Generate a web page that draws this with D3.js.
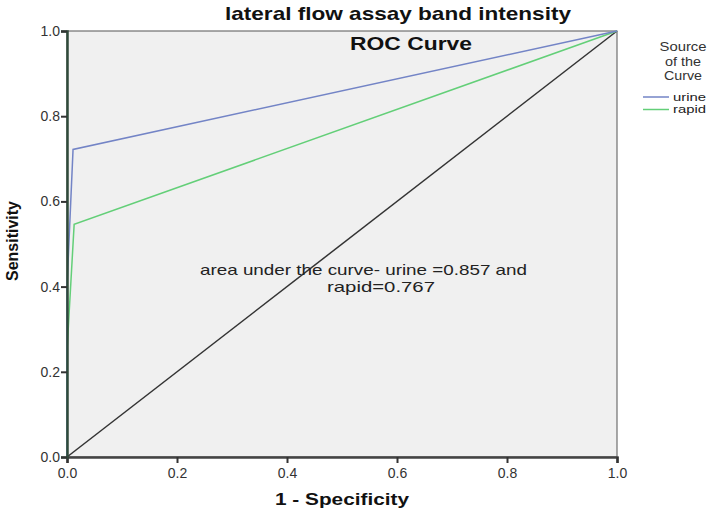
<!DOCTYPE html>
<html>
<head>
<script src="https://d3js.org/d3.v7.min.js" charset="utf-8"></script>
<style>
  body { margin: 0; background: #fff; }
  text { font-family: "Liberation Sans", Arial, sans-serif; }
</style>
</head>
<body>
<div id="graph"></div>
<script>
    // data
    const ticks = [0, 0.2, 0.4, 0.6, 0.8, 1.0];
    const seriesNames = ["urine", "rapid"];
    const seriesColors = ["#7384c6", "#63cf78"];
    const urineFpr = [0, 0, 0.011, 1];
    const urineTpr = [0, 0.4, 0.722, 1];
    const rapidFpr = [0, 0, 0.013, 1];
    const rapidTpr = [0, 0.25, 0.546, 1];
    const refLine = [[0, 0], [1, 1]];

    const margin = {top: 31, right: 92, bottom: 53, left: 67},
        width = 709 - margin.left - margin.right,
        height = 510 - margin.top - margin.bottom;

    const root = d3.select("#graph")
        .append("svg")
        .attr("width", 709)
        .attr("height", 510);

    const svg = root.append("g")
        .attr("transform", `translate(${margin.left}, ${margin.top})`);

    const x = d3.scaleLinear().domain([0, 1]).range([0, width]);
    const y = d3.scaleLinear().domain([0, 1]).range([height, 0]);

    // the source picture has text a bit wider than Arial, so stretch it
    function wide(sel, len) {
        return sel.attr("textLength", len).attr("lengthAdjust", "spacingAndGlyphs");
    }

    // plot background
    svg.append("rect")
        .attr("width", width)
        .attr("height", height)
        .attr("fill", "#f0f0f0")
        .attr("stroke", "#555")
        .attr("stroke-width", 1);

    // reference diagonal
    const line = d3.line().x(d => x(d[0])).y(d => y(d[1]));
    svg.append("path")
        .datum(refLine)
        .attr("d", line)
        .attr("fill", "none")
        .attr("stroke", "#333")
        .attr("stroke-width", 1.5);

    const curves = [
        d3.zip(urineFpr, urineTpr),
        d3.zip(rapidFpr, rapidTpr)
    ];
    // draw rapid first so urine sits on top
    [1, 0].forEach(i => {
        svg.append("path")
            .datum(curves[i])
            .attr("d", line)
            .attr("fill", "none")
            .attr("stroke", seriesColors[i])
            .attr("stroke-width", 1.5);
    });

    // axes
    const xAxis = svg.append("g")
        .attr("transform", "translate(0," + height + ")")
        .call(d3.axisBottom(x).tickValues(ticks).tickFormat(d3.format(".1f")).tickSize(6).tickPadding(5));
    const yAxis = svg.append("g")
        .call(d3.axisLeft(y).tickValues(ticks).tickFormat(d3.format(".1f")).tickSize(6).tickPadding(1));
    [xAxis, yAxis].forEach(a => {
        a.select(".domain").attr("stroke", "#444").attr("stroke-width", 2.5);
        a.selectAll(".tick line").attr("stroke", "#333").attr("stroke-width", 2);
        a.selectAll(".tick text")
            .attr("fill", "#333")
            .style("font-size", "14px")
            .style("font-family", "Liberation Sans, Arial, sans-serif");
    });
    // left axis looks dark green where the curves overlap it
    yAxis.select(".domain").attr("stroke", "#2f4a3a");

    // titles
    wide(root.append("text")
        .attr("x", 398).attr("y", 20)
        .attr("text-anchor", "middle")
        .style("font-size", "19px").style("font-weight", "bold")
        .attr("fill", "#111")
        .text("lateral flow assay band intensity"), 346);

    wide(svg.append("text")
        .attr("x", 411 - margin.left).attr("y", 50 - margin.top)
        .attr("text-anchor", "middle")
        .style("font-size", "18px").style("font-weight", "bold")
        .attr("fill", "#111")
        .text("ROC Curve"), 122);

    wide(root.append("text")
        .attr("x", 342).attr("y", 505)
        .attr("text-anchor", "middle")
        .style("font-size", "17px").style("font-weight", "bold")
        .attr("fill", "#111")
        .text("1 - Specificity"), 134);

    root.append("text")
        .attr("transform", "translate(18,241) rotate(-90)")
        .attr("text-anchor", "middle")
        .style("font-size", "16px").style("font-weight", "bold")
        .attr("fill", "#111")
        .text("Sensitivity");

    // annotation
    wide(svg.append("text")
        .attr("x", 200 - margin.left).attr("y", 275 - margin.top)
        .style("font-size", "15px")
        .attr("fill", "#222")
        .text("area under the curve- urine =0.857 and"), 327);
    wide(svg.append("text")
        .attr("x", 327 - margin.left).attr("y", 292 - margin.top)
        .style("font-size", "15px")
        .attr("fill", "#222")
        .text("rapid=0.767"), 108);

    // legend
    const lg = root.append("g");
    const legTitle = ["Source", "of the", "Curve"];
    const legTitleW = [47, 36, 38];
    legTitle.forEach((t, i) => {
        wide(lg.append("text")
            .attr("x", 683).attr("y", 51 + i * 14.5)
            .attr("text-anchor", "middle")
            .style("font-size", "13px")
            .attr("fill", "#333")
            .text(t), legTitleW[i]);
    });
    seriesNames.forEach((n, i) => {
        lg.append("line")
            .attr("x1", 643).attr("x2", 669)
            .attr("y1", 97 + i * 12.5).attr("y2", 97 + i * 12.5)
            .attr("stroke", seriesColors[i]).attr("stroke-width", 1.5);
        wide(lg.append("text")
            .attr("x", 673).attr("y", 100.5 + i * 12.5)
            .style("font-size", "11px")
            .attr("fill", "#222")
            .text(n), 33);
    });
</script>
</body>
</html>
